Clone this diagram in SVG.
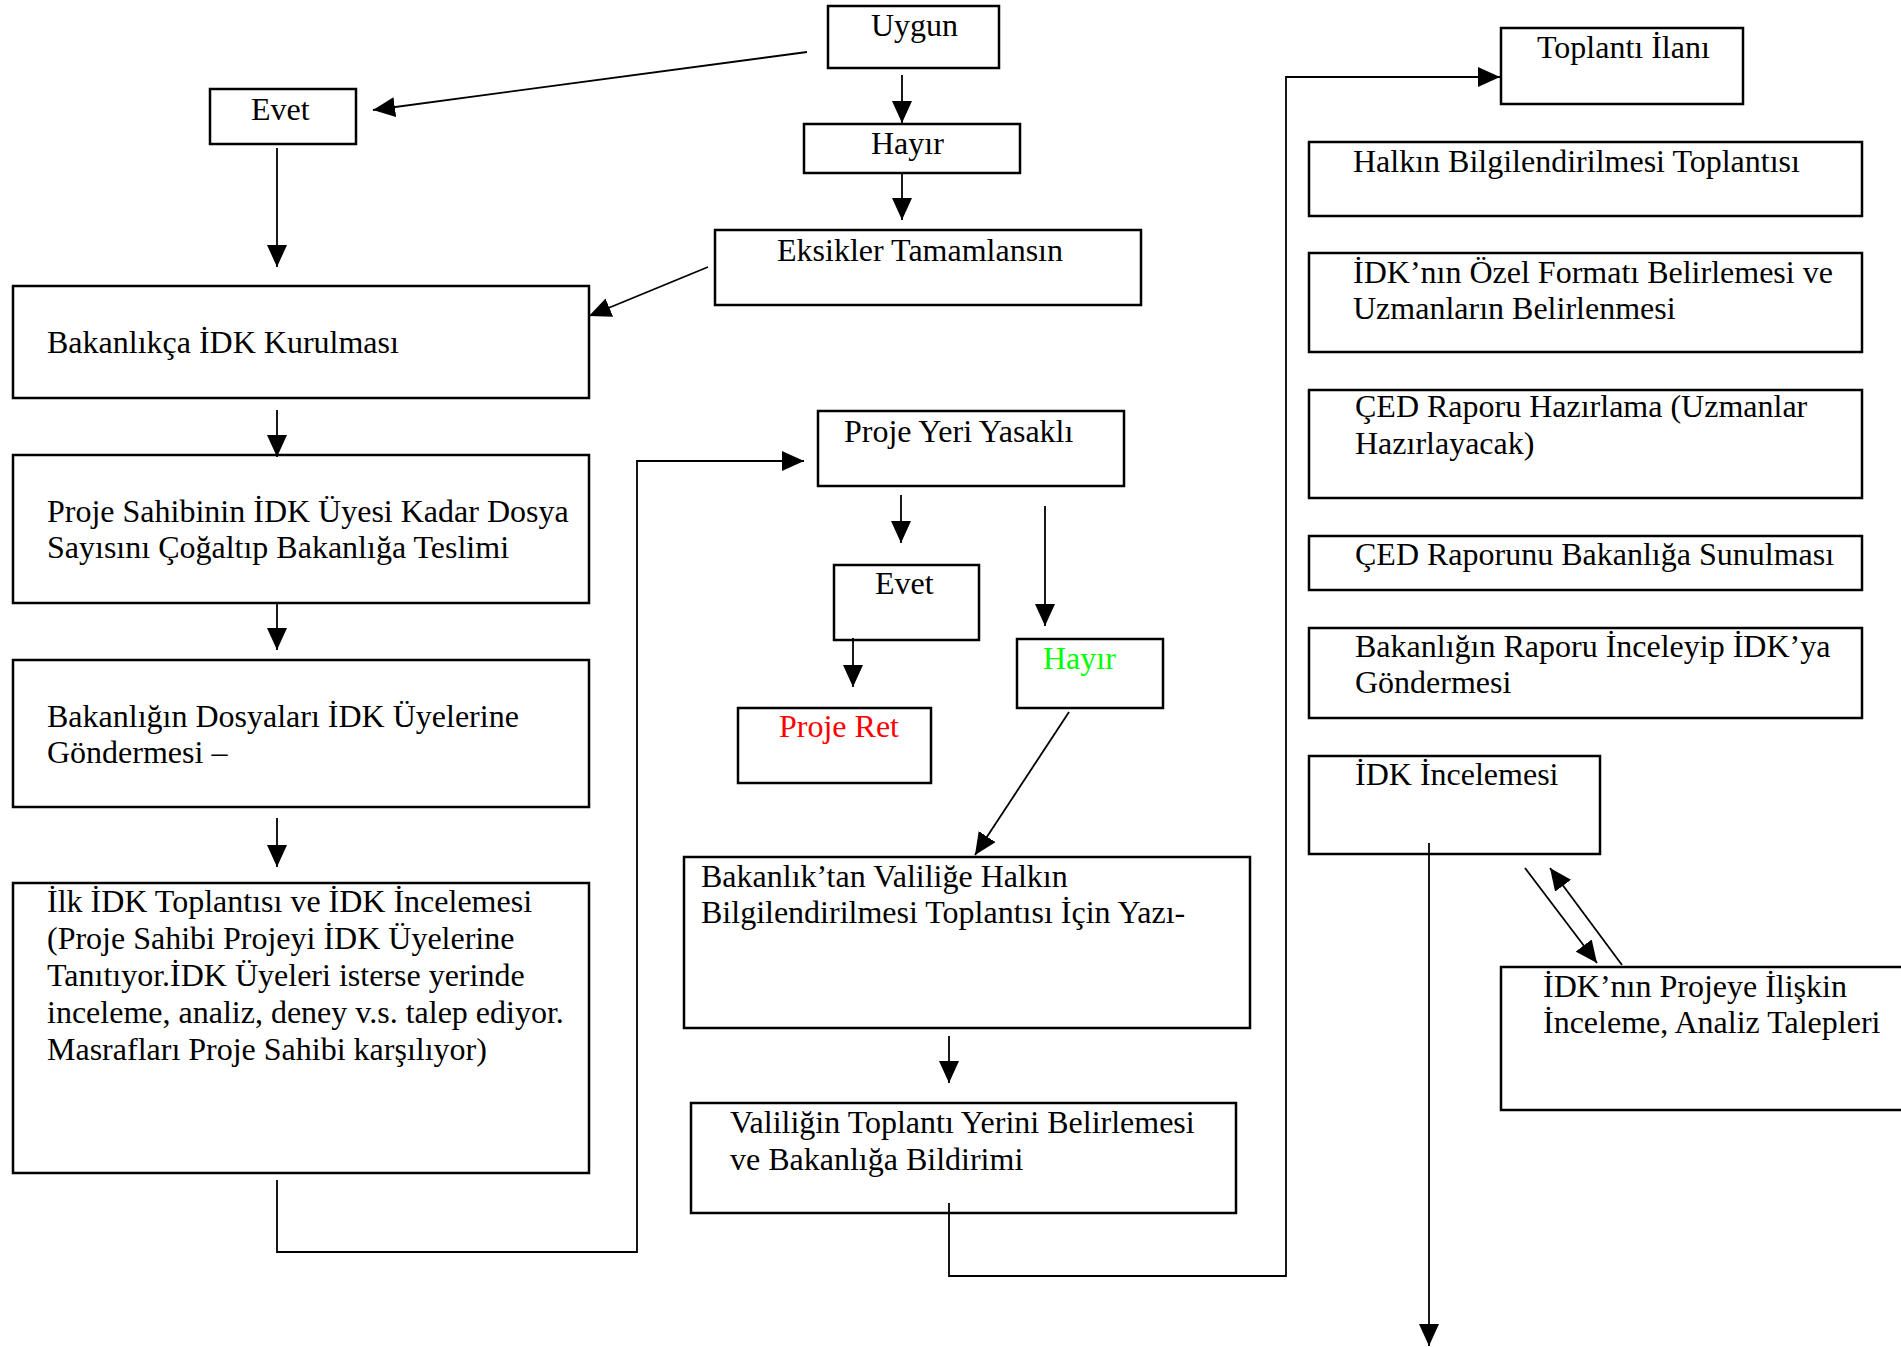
<svg xmlns="http://www.w3.org/2000/svg" width="1901" height="1347" viewBox="0 0 1901 1347">
<style>
.box{fill:none;stroke:#000;stroke-width:2.5}
.t{font-family:"Liberation Serif","Times New Roman",serif;font-size:32px;fill:#000}
.c{fill:none;stroke:#000;stroke-width:1.8}
</style>
<defs>
<marker id="ah" markerUnits="userSpaceOnUse" markerWidth="22" markerHeight="20" refX="22" refY="10" orient="auto" viewBox="0 0 22 20">
<path d="M0,0 L22,10 L0,20 z" fill="#000"/>
</marker>
</defs>
<rect width="1901" height="1347" fill="#fff"/>
<g id="connectors">
<line class="c" x1="807" y1="52" x2="373" y2="110" marker-end="url(#ah)"/>
<line class="c" x1="902" y1="75" x2="902" y2="123" marker-end="url(#ah)"/>
<line class="c" x1="902" y1="173" x2="902" y2="220" marker-end="url(#ah)"/>
<line class="c" x1="277" y1="148" x2="277" y2="267" marker-end="url(#ah)"/>
<line class="c" x1="708" y1="267" x2="589" y2="316" marker-end="url(#ah)"/>
<line class="c" x1="277" y1="410" x2="277" y2="457" marker-end="url(#ah)"/>
<line class="c" x1="277" y1="603" x2="277" y2="650" marker-end="url(#ah)"/>
<line class="c" x1="277" y1="818" x2="277" y2="867" marker-end="url(#ah)"/>
<polyline class="c" points="277,1180 277,1252 637,1252 637,461 804,461" marker-end="url(#ah)"/>
<line class="c" x1="901" y1="495" x2="901" y2="543" marker-end="url(#ah)"/>
<line class="c" x1="1045" y1="506" x2="1045" y2="626" marker-end="url(#ah)"/>
<line class="c" x1="853" y1="638" x2="853" y2="687" marker-end="url(#ah)"/>
<line class="c" x1="1069" y1="712" x2="975" y2="855" marker-end="url(#ah)"/>
<line class="c" x1="949" y1="1036" x2="949" y2="1083" marker-end="url(#ah)"/>
<polyline class="c" points="949,1203 949,1276 1286,1276 1286,77 1500,77" marker-end="url(#ah)"/>
<line class="c" x1="1429" y1="843" x2="1429" y2="1346" marker-end="url(#ah)"/>
<line class="c" x1="1525" y1="868" x2="1597" y2="963" marker-end="url(#ah)"/>
<line class="c" x1="1622" y1="965" x2="1550" y2="868" marker-end="url(#ah)"/>
</g>
<g id="n-uygun"><rect class="box" x="828" y="6" width="171" height="62"/><text class="t" x="871" y="36">Uygun</text></g>
<g id="n-evet1"><rect class="box" x="210" y="89" width="146" height="55"/><text class="t" x="251" y="120">Evet</text></g>
<g id="n-hayir1"><rect class="box" x="804" y="124" width="216" height="49"/><text class="t" x="871" y="154">Hayır</text></g>
<g id="n-eksikler"><rect class="box" x="715" y="230" width="426" height="75"/><text class="t" x="777" y="261">Eksikler Tamamlansın</text></g>
<g id="n-kurulmasi"><rect class="box" x="13" y="286" width="576" height="112"/><text class="t" x="47" y="353">Bakanlıkça İDK Kurulması</text></g>
<g id="n-teslim"><rect class="box" x="13" y="455" width="576" height="148"/><text class="t" x="47" y="522">Proje Sahibinin İDK Üyesi Kadar Dosya</text><text class="t" x="47" y="558">Sayısını Çoğaltıp Bakanlığa Teslimi</text></g>
<g id="n-gonderme"><rect class="box" x="13" y="660" width="576" height="147"/><text class="t" x="47" y="727">Bakanlığın Dosyaları İDK Üyelerine</text><text class="t" x="47" y="763">Göndermesi –</text></g>
<g id="n-ilk"><rect class="box" x="13" y="883" width="576" height="290"/>
<text class="t" x="47" y="912">İlk İDK Toplantısı ve İDK İncelemesi</text>
<text class="t" x="47" y="949">(Proje Sahibi Projeyi İDK Üyelerine</text>
<text class="t" x="47" y="986">Tanıtıyor.İDK Üyeleri isterse yerinde</text>
<text class="t" x="47" y="1023">inceleme, analiz, deney v.s. talep ediyor.</text>
<text class="t" x="47" y="1060">Masrafları Proje Sahibi karşılıyor)</text></g>
<g id="n-yasakli"><rect class="box" x="818" y="411" width="306" height="75"/><text class="t" x="844" y="442">Proje Yeri Yasaklı</text></g>
<g id="n-evet2"><rect class="box" x="834" y="565" width="145" height="75"/><text class="t" x="875" y="594">Evet</text></g>
<g id="n-hayir2"><rect class="box" x="1017" y="639" width="146" height="69"/><text class="t" x="1043" y="669" style="fill:#00ff00">Hayır</text></g>
<g id="n-ret"><rect class="box" x="738" y="708" width="193" height="75"/><text class="t" x="779" y="737" style="fill:#ff0000">Proje Ret</text></g>
<g id="n-yazi"><rect class="box" x="684" y="857" width="566" height="171"/><text class="t" x="701" y="887">Bakanlık’tan Valiliğe Halkın</text><text class="t" x="701" y="923">Bilgilendirilmesi Toplantısı İçin Yazı-</text></g>
<g id="n-valilik"><rect class="box" x="691" y="1103" width="545" height="110"/><text class="t" x="730" y="1133">Valiliğin Toplantı Yerini Belirlemesi</text><text class="t" x="730" y="1170">ve Bakanlığa Bildirimi</text></g>
<g id="n-ilan"><rect class="box" x="1501" y="28" width="242" height="76"/><text class="t" x="1537" y="58">Toplantı İlanı</text></g>
<g id="n-halk"><rect class="box" x="1309" y="142" width="553" height="74"/><text class="t" x="1353" y="172">Halkın Bilgilendirilmesi Toplantısı</text></g>
<g id="n-format"><rect class="box" x="1309" y="253" width="553" height="99"/><text class="t" x="1353" y="283">İDK’nın Özel Formatı Belirlemesi ve</text><text class="t" x="1353" y="319">Uzmanların Belirlenmesi</text></g>
<g id="n-ced"><rect class="box" x="1309" y="390" width="553" height="108"/><text class="t" x="1355" y="417">ÇED Raporu Hazırlama (Uzmanlar</text><text class="t" x="1355" y="454">Hazırlayacak)</text></g>
<g id="n-sunum"><rect class="box" x="1309" y="536" width="553" height="54"/><text class="t" x="1355" y="565">ÇED Raporunu Bakanlığa Sunulması</text></g>
<g id="n-inceleyip"><rect class="box" x="1309" y="628" width="553" height="90"/><text class="t" x="1355" y="657">Bakanlığın Raporu İnceleyip İDK’ya</text><text class="t" x="1355" y="693">Göndermesi</text></g>
<g id="n-idkinc"><rect class="box" x="1309" y="756" width="291" height="98"/><text class="t" x="1355" y="785">İDK İncelemesi</text></g>
<g id="n-talep"><rect class="box" x="1501" y="967" width="420" height="143"/><text class="t" x="1543" y="997">İDK’nın Projeye İlişkin</text><text class="t" x="1543" y="1033">İnceleme, Analiz Talepleri</text></g>
</svg>
